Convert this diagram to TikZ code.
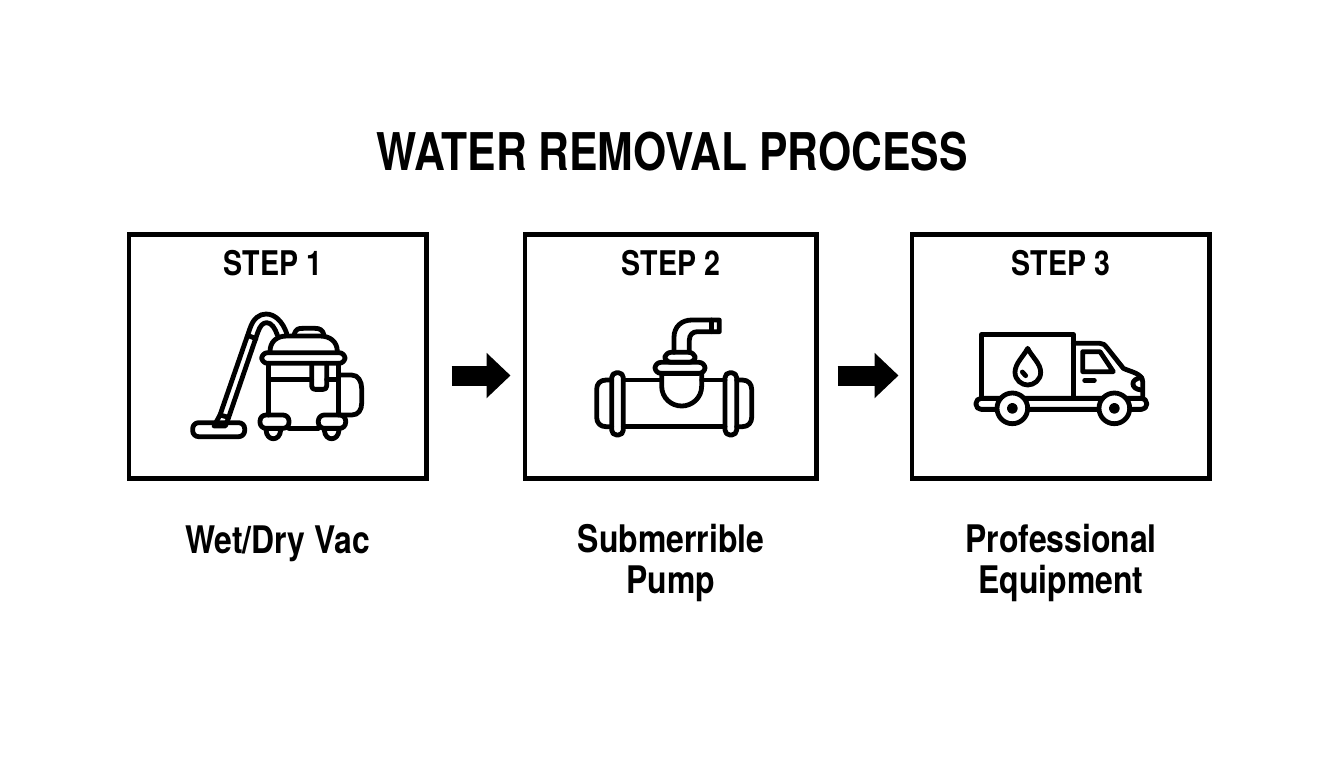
\documentclass[tikz,border=0pt]{standalone}
\usepackage{fontspec}
\setmainfont[FakeStretch=0.84]{TeX Gyre Heros}
\newfontfamily\titlefont[FakeStretch=0.82]{TeX Gyre Heros}
\usetikzlibrary{arrows.meta}
\tikzset{
  x=0.5pt,y=-0.5pt,
  stepbox/.style={draw=black,line width=2.2pt,minimum height=122pt,inner sep=0pt,fill=white},
  heading/.style={font=\titlefont\fontsize{26}{30}\selectfont\bfseries,text=black,inner sep=0pt},
  steplabel/.style={font=\fontsize{17}{20}\selectfont\bfseries,text=black,inner sep=0pt},
  caption/.style={font=\fontsize{19}{20.5}\selectfont\bfseries,text=black,inner sep=0pt,align=center},
  flow/.style={line width=10pt,-{Triangle[length=12pt,width=22pt]},black},
  icon/.style={x=0.16667pt,y=-0.16667pt,line width=2.4pt,line join=round,line cap=round,black},
}
\begin{document}
\begin{tikzpicture}
\useasboundingbox[fill=white] (0,0) rectangle (1344,768);
\node[heading] (title) at (672,152) {WATER REMOVAL PROCESS};
\node[stepbox,minimum width=148.8pt] (box1) at (277.5,356.5) {};
\node[stepbox,minimum width=145.8pt] (box2) at (670.5,356.5) {};
\node[stepbox,minimum width=148.8pt] (box3) at (1060.5,356.5) {};
\node[steplabel] (s1) at (273,263) {STEP 1};
\node[steplabel] (s2) at (671,263) {STEP 2};
\node[steplabel] (s3) at (1061,263) {STEP 3};
\node[caption] (c1) at (277.5,544) {Wet/Dry Vac};
\node[caption,anchor=north] (c2) at (671,524) {Submerrible\\Pump};
\node[caption,anchor=north] (c3) at (1061,524) {Professional\\Equipment};
\coordinate (a1s) at ([yshift=-9.5pt]box1.east);
\coordinate (a1e) at ([yshift=-9.5pt]box2.west);
\coordinate (a2s) at ([yshift=-9.5pt]box2.east);
\coordinate (a2e) at ([yshift=-9.5pt]box3.west);
\draw[flow,shorten <=11.5pt,shorten >=6pt] (a1s) -- (a1e);
\draw[flow,shorten <=9.5pt,shorten >=5.5pt] (a2s) -- (a2e);
% vacuum
\begin{scope}[shift={(170,300)},icon]
\draw[rounded corners=3pt] (68,368) rectangle (224,410);
\draw (132,378) -- (150,345) -- (176,352) -- (166,378) -- cycle;
\draw (150,345) -- (240,85) .. controls (250,55) and (268,42) .. (288,42) .. controls (315,42) and (338,65) .. (350,100);
\draw (176,352) -- (263,98) .. controls (270,78) and (278,68) .. (290,68) .. controls (305,68) and (315,85) .. (322,105);
\draw (238,108) -- (258,116);
\draw (300,155) .. controls (300,125) and (320,108) .. (350,108) -- (450,108) .. controls (480,108) and (502,125) .. (502,155);
\draw (372,105) .. controls (378,85) and (385,85) .. (400,85) -- (435,85) .. controls (450,85) and (458,90) .. (462,105);
\draw[rounded corners=3pt] (275,158) rectangle (525,190);
\draw (296,190) -- (296,345);
\draw (505,190) -- (505,345);
\draw (296,238) -- (425,238);
\draw (470,238) -- (505,238);
\draw (425,190) -- (425,258) .. controls (425,265) and (430,268) .. (435,268) -- (460,268) .. controls (465,268) and (470,265) .. (470,258) -- (470,190);
\draw (510,225) -- (545,225) .. controls (565,225) and (575,245) .. (575,265) -- (575,310) .. controls (575,330) and (565,345) .. (545,345) -- (510,345);
\draw[rounded corners=3pt] (270,345) rectangle (357,385);
\draw[rounded corners=3pt] (445,345) rectangle (527,385);
\draw (357,385) -- (445,385);
\draw (288,390) .. controls (290,425) and (330,425) .. (332,390);
\draw (463,390) .. controls (465,425) and (505,425) .. (507,390);
\end{scope}
% pump
\begin{scope}[shift={(580,300)},icon]
\draw[rounded corners=2.5pt] (95,218) rectangle (130,405);
\draw[rounded corners=2.5pt] (435,218) rectangle (470,405);
\draw (130,240) -- (240,240);
\draw (365,240) -- (435,240);
\draw (130,380) -- (435,380);
\draw (95,240) -- (78,240) .. controls (60,240) and (50,252) .. (50,268) -- (50,352) .. controls (50,368) and (60,380) .. (78,380) -- (95,380);
\draw (470,240) -- (487,240) .. controls (505,240) and (515,252) .. (515,268) -- (515,352) .. controls (515,368) and (505,380) .. (487,380) -- (470,380);
\draw (245,220) -- (245,258) .. controls (245,295) and (275,318) .. (305,318) .. controls (335,318) and (365,295) .. (365,258) -- (365,220);
\draw[rounded corners=3pt] (225,187) rectangle (375,220);
\draw[rounded corners=3pt] (255,157) rectangle (345,187);
\draw (282,157) -- (282,112) .. controls (282,80) and (305,60) .. (335,60) -- (418,60) -- (418,95) -- (352,95) .. controls (338,95) and (328,105) .. (328,120) -- (328,157);
\draw (395,60) -- (395,95);
\end{scope}
% truck
\begin{scope}[shift={(960,320)},icon]
\draw (65,235) -- (65,43) -- (340,43) -- (340,235);
\draw (340,70) -- (420,70) .. controls (430,70) and (435,75) .. (440,82) -- (490,145) .. controls (510,155) and (548,160) .. (548,185) -- (548,235);
\draw (368,95) -- (420,95) -- (460,155) -- (368,155) -- cycle;
\draw (374,181) -- (403,181);
\draw (545,173) .. controls (510,175) and (510,208) .. (545,210);
\draw (203,85) .. controls (190,110) and (165,130) .. (165,157) .. controls (165,180) and (185,195) .. (203,195) .. controls (222,195) and (242,180) .. (242,157) .. controls (242,130) and (215,110) .. (203,85) -- cycle;
\draw (187,156) -- (197,167);
\draw[rounded corners=2.5pt] (48,235) rectangle (560,268);
\draw[fill=white] (157,265) circle[radius=7.67pt];
\draw[fill=white] (463,265) circle[radius=7.67pt];
\draw[fill=black] (157,265) circle[radius=1.5pt];
\draw[fill=black] (463,265) circle[radius=1.5pt];
\end{scope}
\end{tikzpicture}
\end{document}
